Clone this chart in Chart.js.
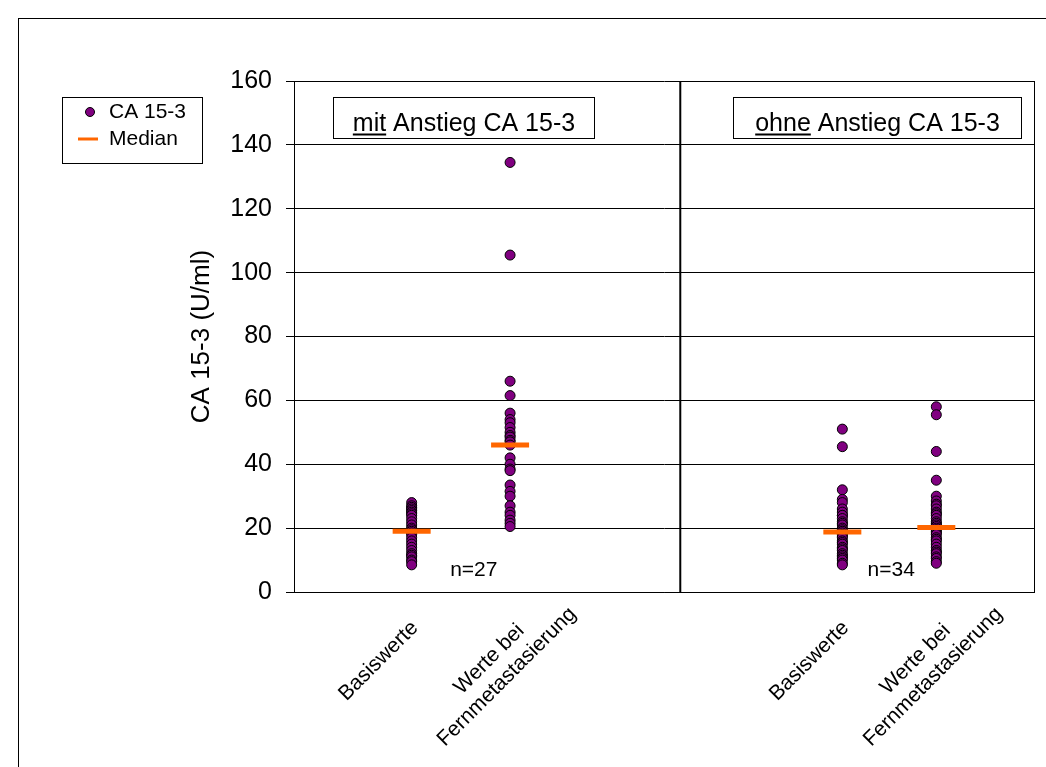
<!DOCTYPE html>
<html>
<head>
<meta charset="utf-8">
<script src="https://cdn.jsdelivr.net/npm/chart.js@4.4.0/dist/chart.umd.min.js"></script>
<style>
  html, body { margin: 0; padding: 0; background: #fff; }
  canvas { display: block; }
</style>
</head>
<body>
<canvas id="chart" width="1046" height="767"></canvas>
<script>
// CA 15-3 Einzelwerte mit Median, zwei Gruppen (mit / ohne Anstieg)
const FONT = "'Liberation Sans', Arial, Helvetica, sans-serif";

const categories = ['Basiswerte', ['Werte bei', 'Fernmetastasierung'], 'Basiswerte', ['Werte bei', 'Fernmetastasierung']];
const columnX = [15.9, 29.2, 74.1, 86.8]; // Lage der Kategorien auf der x-Achse (0..100)

const basisMit = [28, 27, 26.5, 26, 25.5, 25, 24.5, 24, 23, 22, 21, 20, 19.5, 19, 18.5, 18, 17, 16, 15, 14, 13, 12, 11.5, 11, 10, 9.5, 8.5];
const fernMit = [134.5, 105.5, 66, 61.5, 56, 54, 53, 51.5, 50, 49, 48.5, 47.5, 47, 46, 42, 40, 38.5, 38, 33.5, 31.5, 30, 27, 25, 24, 22.5, 21.5, 20.5];
const basisOhne = [51, 45.5, 32, 29, 28, 26, 25, 24, 24, 23, 22, 21.5, 21, 20, 19.5, 19, 19, 18.5, 18, 17.5, 17, 16, 15.5, 15, 14, 13.5, 13, 12, 11.5, 11, 10.5, 10, 9, 8.5];
const fernOhne = [58, 55.5, 44, 35, 30, 28.5, 27.5, 27, 26, 25, 24.5, 24, 23, 22, 21.5, 21, 20.5, 20, 19.5, 19, 18.5, 18, 17, 16.5, 16, 15, 14, 13, 12.5, 12, 11, 10.5, 9.5, 9];
const medians = [19, 46, 18.8, 20.2];

const groupWords = ['mit', 'ohne'];
const groupRest = ' Anstieg CA 15-3';
const groupN = ['n=27', 'n=34'];
const yTicks = [0, 20, 40, 60, 80, 100, 120, 140, 160];

// Gruppen-Beschriftung in Achseneinheiten
const dividerX = 52.2;
const boxRanges = [[5.3, 40.5], [59.3, 98.2]];
const nLabelX = [24.3, 80.7];

const series = [basisMit, fernMit, basisOhne, fernOhne];
const points = [];
series.forEach((arr, i) => arr.forEach(v => points.push({ x: columnX[i], y: v })));
const medianPoints = medians.map((v, i) => ({ x: columnX[i], y: v }));

const decor = {
  id: 'decor',
  beforeDraw(chart) {
    const c = chart.ctx;
    c.save();
    c.fillStyle = '#fff';
    c.fillRect(0, 0, chart.width, chart.height);
    c.strokeStyle = '#000';
    c.lineWidth = 1;
    c.strokeRect(18.5, 18.5, 1100, 1000);
    c.restore();
  },
  beforeDatasetsDraw(chart) {
    const c = chart.ctx, a = chart.chartArea, xs = chart.scales.x, ys = chart.scales.y;
    c.save();
    // rechter Rand Zeichenfläche
    c.strokeStyle = '#000';
    c.lineWidth = 1;
    c.beginPath();
    c.moveTo(Math.round(a.right) + 0.5, a.top);
    c.lineTo(Math.round(a.right) + 0.5, a.bottom);
    c.stroke();
    // Trennlinie
    const dx = xs.getPixelForValue(dividerX);
    c.lineWidth = 2;
    c.beginPath();
    c.moveTo(dx, a.top);
    c.lineTo(dx, a.bottom);
    c.stroke();
    // Gruppen-Kästen
    c.font = '25px ' + FONT;
    c.textBaseline = 'alphabetic';
    boxRanges.forEach((r, i) => {
      const x0 = Math.round(xs.getPixelForValue(r[0])) + 0.5;
      const x1 = Math.round(xs.getPixelForValue(r[1])) + 0.5;
      const y0 = Math.round(ys.getPixelForValue(155)) + 0.5;
      const y1 = Math.round(ys.getPixelForValue(142.1)) + 0.5;
      c.fillStyle = '#fff';
      c.fillRect(x0, y0, x1 - x0, y1 - y0);
      c.lineWidth = 1;
      c.strokeRect(x0, y0, x1 - x0, y1 - y0);
      const w1 = c.measureText(groupWords[i]).width;
      const w2 = c.measureText(groupRest).width;
      const tx = (x0 + x1) / 2 - (w1 + w2) / 2;
      const base = y1 - 8;
      c.fillStyle = '#000';
      c.textAlign = 'left';
      c.fillText(groupWords[i], tx, base);
      c.fillText(groupRest, tx + w1, base);
      c.fillRect(tx, base + 3, w1, 2);
    });
    c.restore();
  },
  afterDraw(chart) {
    const c = chart.ctx, a = chart.chartArea, xs = chart.scales.x, ys = chart.scales.y;
    c.save();
    c.fillStyle = '#000';
    // n-Angaben
    c.font = '21px ' + FONT;
    c.textAlign = 'center';
    c.textBaseline = 'middle';
    groupN.forEach((t, i) => c.fillText(t, xs.getPixelForValue(nLabelX[i]), ys.getPixelForValue(6.9)));
    // Kategorien, 45° gedreht
    categories.forEach((lab, i) => {
      const lines = Array.isArray(lab) ? lab : [lab];
      const px = xs.getPixelForValue(columnX[i]);
      const off = lines.length > 1 ? [-12, 76] : [-33, 69];
      c.save();
      c.translate(px + off[0], a.bottom + off[1]);
      c.rotate(-Math.PI / 4);
      c.font = '21px ' + FONT;
      c.textAlign = 'center';
      c.textBaseline = 'middle';
      lines.forEach((ln, k) => c.fillText(ln, 0, (k - (lines.length - 1) / 2) * 25));
      c.restore();
    });
    // Legende
    c.strokeStyle = '#000';
    c.lineWidth = 1;
    c.strokeRect(62.5, 97.5, 140, 66);
    c.beginPath();
    c.arc(90, 112, 4.5, 0, Math.PI * 2);
    c.fillStyle = '#800080';
    c.fill();
    c.stroke();
    c.strokeStyle = '#FF6600';
    c.lineWidth = 3;
    c.beginPath();
    c.moveTo(78, 139);
    c.lineTo(98, 139);
    c.stroke();
    c.fillStyle = '#000';
    c.font = '21px ' + FONT;
    c.textAlign = 'left';
    c.textBaseline = 'middle';
    c.fillText(chart.data.datasets[0].label, 109, 112);
    c.fillText(chart.data.datasets[1].label, 109, 139);
    c.restore();
  }
};

new Chart(document.getElementById('chart').getContext('2d'), {
  type: 'scatter',
  data: {
    datasets: [
      {
        label: 'CA 15-3', data: points, order: 1,
        pointRadius: 5, pointHoverRadius: 5,
        pointBackgroundColor: '#800080', pointBorderColor: '#000', pointBorderWidth: 1
      },
      {
        label: 'Median', data: medianPoints, order: 0,
        pointStyle: 'line', pointRadius: 19, pointHoverRadius: 19,
        pointBorderColor: '#FF6600', pointBorderWidth: 5
      }
    ]
  },
  options: {
    responsive: false,
    animation: false,
    events: [],
    layout: { autoPadding: false, padding: { left: 182, top: 81, right: 12, bottom: 0 } },
    plugins: { legend: { display: false }, tooltip: { enabled: false } },
    scales: {
      x: {
        type: 'linear', min: 0, max: 100,
        ticks: { display: false },
        grid: { display: false, drawTicks: false },
        border: { display: true, color: '#000', width: 1 },
        afterFit: s => { s.height = 175; }
      },
      y: {
        min: 0, max: 160,
        afterBuildTicks: s => { s.ticks = yTicks.map(v => ({ value: v })); },
        ticks: { color: '#000', font: { family: FONT, size: 25 }, padding: 14 },
        grid: { color: '#000', lineWidth: 1, tickLength: 8 },
        border: { display: true, color: '#000', width: 1 },
        title: {
          display: true, text: 'CA 15-3 (U/ml)', color: '#000',
          font: { family: FONT, size: 26 }, padding: { top: 4, bottom: 4 }
        },
        afterFit: s => { s.width = 112; }
      }
    }
  },
  plugins: [decor]
});
</script>
</body>
</html>
